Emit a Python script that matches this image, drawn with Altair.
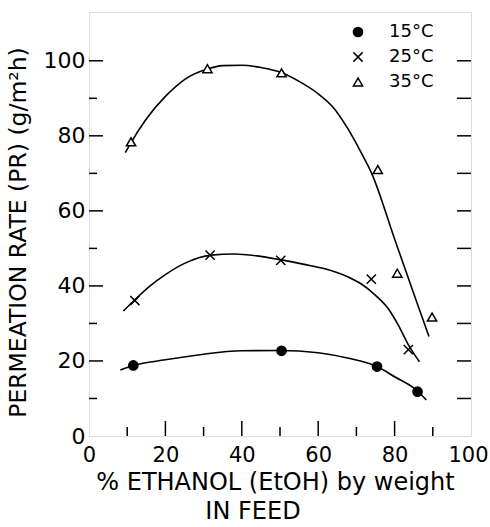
import altair as alt
import pandas as pd

FONT = "DejaVu Sans"

series = ["15°C", "25°C", "35°C"]

# measured points
x15 = [11.6, 50.4, 75.4, 86.0]
y15 = [18.8, 22.7, 18.5, 11.8]
x25 = [12.0, 31.7, 50.2, 73.9, 83.6]
y25 = [36.1, 48.2, 46.8, 41.8, 23.0]
x35 = [11.0, 31.0, 50.4, 75.6, 80.7, 89.8]
y35 = [78.4, 97.9, 96.8, 71.0, 43.4, 31.7]

# hand-drawn fitted curves
c15_x = [8.2, 11.6, 20, 30, 40, 50, 60, 68, 75.4, 80, 86, 88.3]
c15_y = [17.6, 18.8, 20.3, 21.8, 22.7, 22.8, 22.2, 20.7, 18.5, 15.8, 12.0, 9.6]
c25_x = [9, 12, 16, 20, 25, 32, 38, 44, 50, 56, 62, 68, 71.3, 75, 78.3, 81, 83.5, 86.5]
c25_y = [33.3, 36.3, 40.0, 43.0, 46.0, 48.2, 48.5, 48.0, 47.0, 45.8, 44.5, 42.3, 40.5, 37.5, 34.0, 29.5, 24.5, 19.8]
c35_x = [9.5, 11, 15, 20, 25, 31, 35, 40, 45, 50, 55, 60, 64, 68, 71, 74, 80, 85, 89]
c35_y = [75.5, 78.2, 84.5, 90.5, 95.0, 97.8, 98.7, 98.8, 98.2, 97.0, 94.5, 91.2, 87.5, 81.5, 76.0, 70.0, 52.5, 38.0, 26.5]

x_labels = [0, 20, 40, 60, 80, 100]
y_labels = [0, 20, 40, 60, 80, 100]
x_ticks_major = [20, 40, 60, 80]
x_ticks_minor = [10, 30, 50, 70, 90]
y_ticks_major = [20, 40, 60, 80, 100]
y_ticks_minor = [10, 30, 50, 70, 90]
y_ticks_right = [10, 20, 30, 40, 50, 60, 70, 80, 90, 100]

W, H = 382, 424

pts = pd.DataFrame({
    "x": x15 + x25 + x35,
    "y": y15 + y25 + y35,
    "series": [series[0]] * len(x15) + [series[1]] * len(x25) + [series[2]] * len(x35),
})
curves = pd.DataFrame({
    "x": c15_x + c25_x + c35_x,
    "y": c15_y + c25_y + c35_y,
    "series": [series[0]] * len(c15_x) + [series[1]] * len(c25_x) + [series[2]] * len(c35_x),
    "i": list(range(len(c15_x))) + list(range(len(c25_x))) + list(range(len(c35_x))),
})

xs = alt.Scale(domain=[0, 100], nice=False, zero=False)
ys = alt.Scale(domain=[0, 113], nice=False, zero=False)

xaxis = alt.Axis(
    values=x_labels, ticks=False, domain=False, grid=False, format="d",
    labelFont=FONT, labelFontSize=21, labelColor="black", labelPadding=8, labelFlush=False,
    labelOffset={"condition": {"test": "datum.value == 100", "value": -3}, "value": 0},
    title="% ETHANOL (EtOH) by weight", titleFont=FONT, titleFontSize=24,
    titleFontWeight="normal", titleColor="black", titleX=186, titleY=53,
    titleAlign="center", titleBaseline="alphabetic",
)
yaxis = alt.Axis(
    values=y_labels, ticks=False, domain=False, grid=False, format="d",
    labelFont=FONT, labelFontSize=22, labelColor="black", labelPadding=4, labelFlush=False,
    title="PERMEATION RATE (PR) (g/m²h)", titleFont=FONT, titleFontSize=23.5,
    titleFontWeight="normal", titleColor="black", titleAngle=270, titleX=-71, titleY=220,
    titleAlign="center", titleBaseline="middle",
)

X = alt.X("x:Q", scale=xs, axis=xaxis)
Y = alt.Y("y:Q", scale=ys, axis=yaxis)

legend = alt.Legend(
    title=None, orient="none", legendX=260, legendY=11, padding=0,
    labelFont=FONT, labelFontSize=18, labelColor="black", labelOffset=22,
    symbolSize=85, symbolStrokeWidth=1.5, rowPadding=7,
)

lines = alt.Chart(curves).mark_line(color="black", strokeWidth=1.6, interpolate="monotone").encode(
    x=X, y=Y, detail="series:N", order="i:Q"
)

points = alt.Chart(pts).mark_point(filled=True, strokeWidth=1.5, opacity=1, size=85).encode(
    x=X, y=Y,
    shape=alt.Shape("series:N", scale=alt.Scale(domain=series, range=["circle", "M-1,-1L1,1M-1,1L1,-1", "triangle-up"]), legend=legend),
    fill=alt.Fill("series:N", scale=alt.Scale(domain=series, range=["black", "transparent", "white"]), legend=legend),
    stroke=alt.Stroke("series:N", scale=alt.Scale(domain=series, range=["black", "black", "black"]), legend=legend),
)

rule_style = dict(color="black", strokeWidth=1.5)

left_major = alt.Chart(pd.DataFrame({"y": y_ticks_major})).mark_rule(**rule_style).encode(
    y=Y, x=alt.value(0), x2=alt.value(14))
left_minor = alt.Chart(pd.DataFrame({"y": y_ticks_minor})).mark_rule(**rule_style).encode(
    y=Y, x=alt.value(0), x2=alt.value(8))
right_ticks = alt.Chart(pd.DataFrame({"y": y_ticks_right})).mark_rule(**rule_style).encode(
    y=Y, x=alt.value(W), x2=alt.value(W - 14))
bottom_major = alt.Chart(pd.DataFrame({"x": x_ticks_major})).mark_rule(**rule_style).encode(
    x=X, y=alt.value(H), y2=alt.value(H - 15))
bottom_minor = alt.Chart(pd.DataFrame({"x": x_ticks_minor})).mark_rule(**rule_style).encode(
    x=X, y=alt.value(H), y2=alt.value(H - 9))

chart = alt.layer(
    left_major, left_minor, right_ticks, bottom_major, bottom_minor, lines, points
).properties(
    width=W, height=H,
    padding={"left": 89, "top": 12, "right": 19, "bottom": 91},
    autosize=alt.AutoSizeParams(type="none"),
    title=alt.TitleParams(
        "IN FEED", orient="bottom", anchor="middle", frame="group", dx=-27, offset=6,
        font=FONT, fontSize=24, fontWeight="normal", color="black",
    ),
).configure_view(
    stroke="black", strokeWidth=2
).configure(background="white")

chart.save("out.html", embed_options={"renderer": "svg", "actions": False})
